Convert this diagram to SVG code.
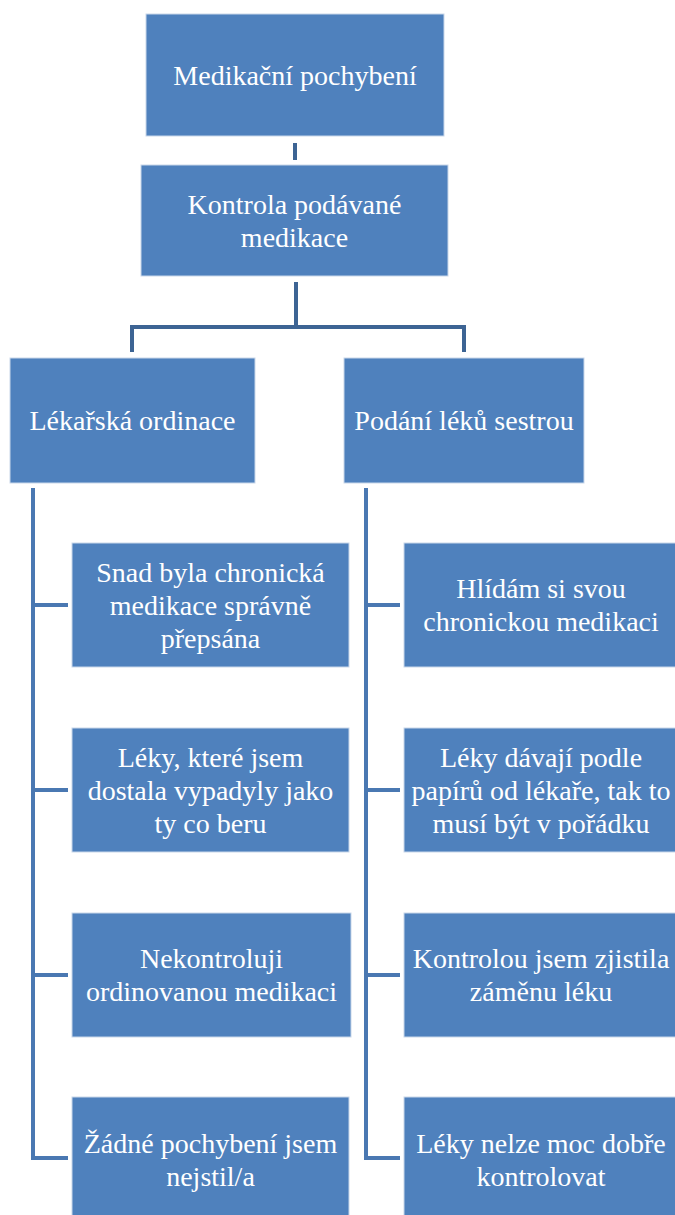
<svg xmlns="http://www.w3.org/2000/svg" width="675" height="1215" viewBox="0 0 675 1215">
<style>
.box{fill:#4f81bd;stroke:#c9d7ea;stroke-width:1}
.t{font-family:"Liberation Serif","Times New Roman",serif;font-size:28px;fill:#ffffff;text-anchor:middle}
.c1{fill:none;stroke:#3d6494;stroke-width:4}
.c2{fill:none;stroke:#4a78b2;stroke-width:4}
</style>
<rect width="675" height="1215" fill="#ffffff"/>
<g id="connectors">
<line class="c1" x1="295" y1="143" x2="295" y2="160"/>
<polyline class="c1" points="296,282 296,327"/>
<polyline class="c1" points="132,352 132,327 464,327 464,352"/>
<polyline class="c2" points="33,488 33,1158 68,1158"/>
<line class="c2" x1="33" y1="605" x2="68" y2="605"/>
<line class="c2" x1="33" y1="790" x2="68" y2="790"/>
<line class="c2" x1="33" y1="975" x2="68" y2="975"/>
<polyline class="c2" points="366,488 366,1158 400,1158"/>
<line class="c2" x1="366" y1="605" x2="400" y2="605"/>
<line class="c2" x1="366" y1="790" x2="400" y2="790"/>
<line class="c2" x1="366" y1="975" x2="400" y2="975"/>
</g>
<g id="n0"><rect class="box" x="146" y="14" width="298" height="122"/><text class="t" x="295" y="84.5">Medikační pochybení</text></g>
<g id="n1"><rect class="box" x="141" y="165" width="307" height="111"/><text class="t" x="294.5" y="213.5">Kontrola podávané</text><text class="t" x="294.5" y="246.5">medikace</text></g>
<g id="n2"><rect class="box" x="10" y="358" width="245" height="125"/><text class="t" x="132.5" y="429.5">Lékařská ordinace</text></g>
<g id="n3"><rect class="box" x="344" y="358" width="240" height="125"/><text class="t" x="464" y="429.5">Podání léků sestrou</text></g>
<g id="n4"><rect class="box" x="72" y="543" width="277" height="124"/><text class="t" x="210.5" y="581.5">Snad byla chronická</text><text class="t" x="210.5" y="614.5">medikace správně</text><text class="t" x="210.5" y="647.5">přepsána</text></g>
<g id="n5"><rect class="box" x="72" y="728" width="277" height="124"/><text class="t" x="210.5" y="766.5">Léky, které jsem</text><text class="t" x="210.5" y="799.5">dostala vypadyly jako</text><text class="t" x="210.5" y="832.5">ty co beru</text></g>
<g id="n6"><rect class="box" x="72" y="913" width="279" height="124"/><text class="t" x="211.5" y="968">Nekontroluji</text><text class="t" x="211.5" y="1001">ordinovanou medikaci</text></g>
<g id="n7"><rect class="box" x="72" y="1097" width="277" height="124"/><text class="t" x="210.5" y="1153">Žádné pochybení jsem</text><text class="t" x="210.5" y="1186">nejstil/a</text></g>
<g id="n8"><rect class="box" x="404" y="543" width="275" height="124"/><text class="t" x="541" y="598">Hlídám si svou</text><text class="t" x="541" y="631">chronickou medikaci</text></g>
<g id="n9"><rect class="box" x="404" y="728" width="275" height="124"/><text class="t" x="541" y="766.5">Léky dávají podle</text><text class="t" x="541" y="799.5">papírů od lékaře, tak to</text><text class="t" x="541" y="832.5">musí být v pořádku</text></g>
<g id="n10"><rect class="box" x="404" y="913" width="275" height="124"/><text class="t" x="541" y="968">Kontrolou jsem zjistila</text><text class="t" x="541" y="1001">záměnu léku</text></g>
<g id="n11"><rect class="box" x="404" y="1097" width="275" height="124"/><text class="t" x="541" y="1153">Léky nelze moc dobře</text><text class="t" x="541" y="1186">kontrolovat</text></g>
</svg>
